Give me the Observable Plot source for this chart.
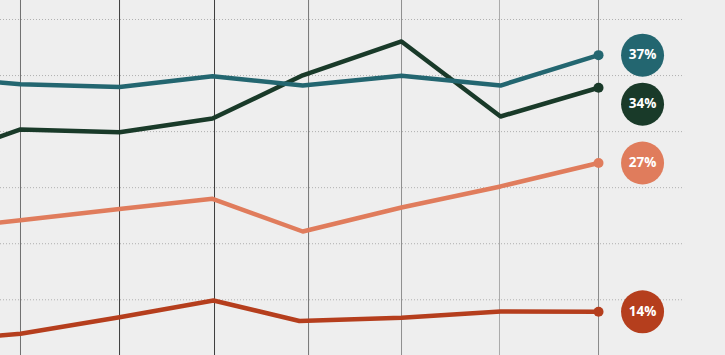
<!DOCTYPE html>
<html>
<head>
<meta charset="utf-8">
<script src="https://cdn.jsdelivr.net/npm/d3@7"></script>
<script src="https://cdn.jsdelivr.net/npm/@observablehq/plot@0.6"></script>
<style>
  html, body { margin: 0; padding: 0; background: #eeeeee; overflow: hidden; }
</style>
</head>
<body>
<div id="chart"></div>
<script>
// ---- data ----
const seriesNames = ["Teal", "Dark green", "Orange", "Red"];
const xMain = [-1, 0, 1.028, 1.993, 2.93, 3.955, 4.983, 6];
const xRed  = [-1, 0, 1.028, 2.003, 2.896, 3.955, 4.983, 6];
const tealValues   = [34.96, 34.23, 33.98, 34.94, 34.11, 34.98, 34.11, 36.82];
const greenValues  = [27.18, 30.19, 29.95, 31.17, 35.02, 38.04, 31.35, 33.91];
const orangeValues = [21.15, 22.09, 23.10, 24.01, 21.09, 23.23, 25.11, 27.20];
const redValues    = [11.24, 11.97, 13.45, 14.94, 13.11, 13.39, 13.96, 13.93];
const gridX = [0, 1.028, 2.014, 2.990, 3.955, 4.972, 6];
const gridY = [15, 20, 25, 30, 35, 40];

// ---- styling ----
const colors = ["#236670", "#193a29", "#e07c5c", "#b53e1d"];
const ruleShades = ["#707070", "#3c3c3c", "#3c3c3c", "#757575", "#8f8f8f", "#ababab", "#8a8a8a"];
const xDomain = [-0.2076, 7.318];
const yDomain = [10.03, 41.695];
const gridEnd = 6.893;
const labelX = 6.457;
const labelGap = 4.37;

const xs = [xMain, xMain, xMain, xRed];
const vals = [tealValues, greenValues, orangeValues, redValues];
const rows = [];
seriesNames.forEach((s, i) => vals[i].forEach((v, j) => rows.push({series: s, x: xs[i][j], y: v, c: colors[i]})));

// end points & dodged labels
const ends = seriesNames.map((s, i) => ({series: s, x: xs[i][xs[i].length - 1], y: vals[i][vals[i].length - 1], c: colors[i]}));
const sorted = [...ends].sort((a, b) => b.y - a.y);
let prev = Infinity;
for (const e of sorted) { e.ly = Math.min(e.y, prev - labelGap); prev = e.ly; }

const marks = [
  Plot.ruleY(gridY, {x1: xDomain[0], x2: gridEnd, stroke: "#b0b0b0", strokeDasharray: "1,2", strokeWidth: 1}),
  ...gridX.map((g, i) => Plot.ruleX([g], {stroke: ruleShades[i], strokeWidth: 1})),
];
[3, 2, 1, 0].forEach(i => {
  marks.push(Plot.line(rows.filter(r => r.series === seriesNames[i]), {x: "x", y: "y", stroke: colors[i], strokeWidth: 4.5, clip: true}));
});
marks.push(Plot.dot(ends, {x: "x", y: "y", r: 5, fill: d => d.c, stroke: "none"}));
marks.push(Plot.dot(ends, {x: () => labelX, y: "ly", r: 21.5, fill: d => d.c, stroke: "none"}));
marks.push(Plot.text(ends, {x: () => labelX, y: "ly", text: d => Math.round(d.y) + "%", fill: "white", fontSize: 13.5, fontWeight: "bold", fontFamily: "'Open Sans', sans-serif"}));

const chart = Plot.plot({
  width: 725,
  height: 355,
  margin: 0,
  x: {domain: xDomain, axis: null},
  y: {domain: yDomain, axis: null},
  color: {type: "identity"},
  style: {background: "#eeeeee", overflow: "hidden"},
  marks
});
document.getElementById("chart").appendChild(chart);
</script>
</body>
</html>
